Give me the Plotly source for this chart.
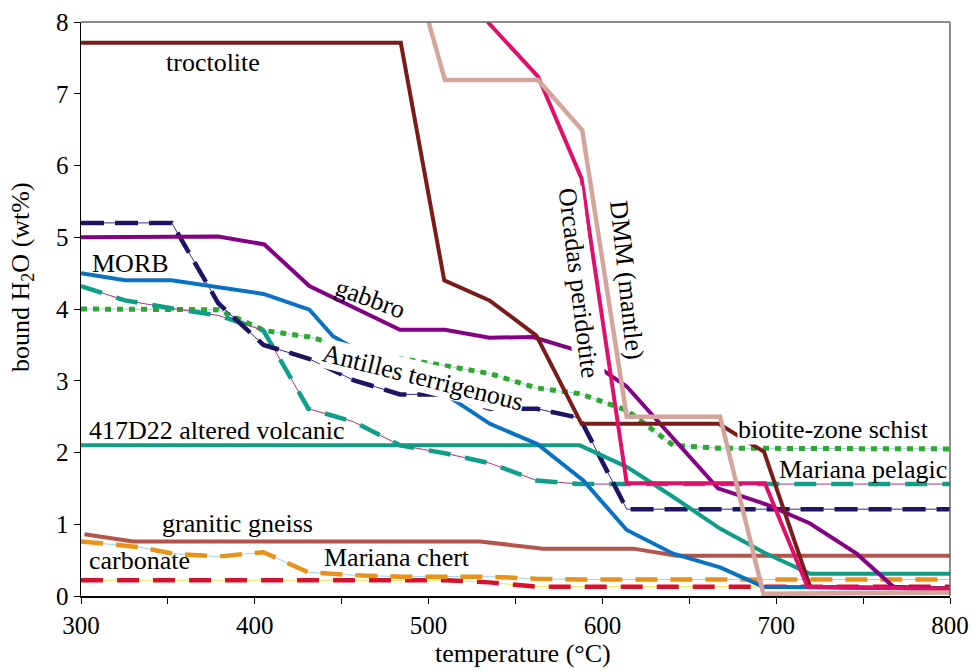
import plotly.graph_objects as go

# ---------------- data ----------------
troctolite_T = [300, 484, 509, 535, 562, 588, 667, 693, 719.5, 800]
troctolite_V = [7.71, 7.71, 4.40, 4.12, 3.63, 2.40, 2.40, 2.01, 0.13, 0.10]

dmm_T = [500, 509.4, 563, 588.4, 614, 667.7, 692.6, 800]
dmm_V = [8.0, 7.19, 7.19, 6.49, 2.50, 2.50, 0.03, 0.05]

orcadas_T = [534, 563, 588, 614, 693.5, 718, 800]
orcadas_V = [8.0, 7.24, 5.82, 1.57, 1.57, 0.13, 0.10]

gabbro_T = [300, 379, 405.5, 431.4, 483.5, 509.4, 535, 560, 582, 614, 666.5, 695, 719.5, 746.3, 767.4, 800]
gabbro_V = [5.0, 5.01, 4.90, 4.32, 3.71, 3.71, 3.60, 3.61, 3.45, 2.92, 1.50, 1.27, 1.01, 0.59, 0.13, 0.10]

morb_T = [300, 325.3, 352, 405, 431.4, 445, 500, 509, 535.3, 562.5, 589, 614, 640.8, 667.7, 692.6, 800]
morb_V = [4.50, 4.40, 4.40, 4.21, 3.99, 3.62, 2.85, 2.82, 2.40, 2.12, 1.61, 0.92, 0.59, 0.40, 0.13, 0.10]

antilles_T = [300, 352.2, 379, 405, 430.8, 456.7, 483.5, 509.4, 535.3, 562.2, 587, 614, 800]
antilles_V = [5.20, 5.20, 4.08, 3.50, 3.31, 3.01, 2.81, 2.81, 2.61, 2.61, 2.48, 1.21, 1.21]

pelagic_T = [300, 325.3, 352, 379, 405, 430.8, 456.7, 483.5, 509.4, 535.3, 562.2, 587, 800]
pelagic_V = [4.32, 4.12, 4.01, 3.91, 3.70, 2.61, 2.43, 2.10, 1.99, 1.85, 1.61, 1.56, 1.56]

schist_T = [300, 379, 405.5, 431.4, 470, 483.5, 509.4, 535.3, 562, 587, 614, 640.8, 667.7, 800]
schist_V = [4.00, 3.99, 3.70, 3.61, 3.36, 3.31, 3.21, 3.10, 2.90, 2.82, 2.59, 2.10, 2.06, 2.05]

volcanic_T = [300, 587, 614, 640.8, 667.7, 692.6, 719.5, 800]
volcanic_V = [2.10, 2.10, 1.80, 1.38, 0.94, 0.61, 0.31, 0.31]

gneiss_T = [302, 330, 529.6, 566, 617.8, 642.7, 800]
gneiss_V = [0.86, 0.76, 0.76, 0.66, 0.66, 0.56, 0.56]

carbonate_T = [300, 334, 353, 379, 405, 430.8, 456.7, 483.5, 509.4, 535, 562, 587, 800]
carbonate_V = [0.76, 0.68, 0.59, 0.55, 0.61, 0.33, 0.29, 0.27, 0.27, 0.27, 0.24, 0.23, 0.23]

chert_T = [300, 510, 535, 562, 800]
chert_V = [0.22, 0.22, 0.19, 0.13, 0.13]

x_range = [300, 800]
y_range = [0, 8]

# labels: text, x, y, angle, white background
labels = [
    ("troctolite", 375.7, 7.44, 0, False),
    ("MORB", 328.7, 4.63, 0, False),
    ("gabbro", 466.3, 4.14, 20, False),
    ("Antilles terrigenous", 496.8, 3.05, 14, True),
    ("417D22 altered volcanic", 378.5, 2.31, 0, False),
    ("granitic gneiss", 390.3, 1.01, 0, False),
    ("carbonate", 333.9, 0.49, 0, False),
    ("Mariana chert", 481.6, 0.54, 0, False),
    ("Orcadas peridotite", 586.5, 4.36, 83, True),
    ("DMM (mantle)", 614.2, 4.40, 84, False),
    ("biotite-zone schist", 732.7, 2.32, 0, True),
    ("Mariana pelagic", 750.2, 1.77, 0, False),
]

FONT = "Liberation Serif"

fig = go.Figure()


def solid(xs, ys, color, width=4, name=""):
    fig.add_trace(go.Scatter(x=xs, y=ys, mode="lines", name=name,
                             line=dict(color=color, width=width),
                             hoverinfo="skip", showlegend=False))


def dashed(xs, ys, color, thin_color, dash, width=4.5, name=""):
    fig.add_trace(go.Scatter(x=xs, y=ys, mode="lines", name=name + " (thin)",
                             line=dict(color=thin_color, width=1),
                             hoverinfo="skip", showlegend=False))
    fig.add_trace(go.Scatter(x=xs, y=ys, mode="lines", name=name,
                             line=dict(color=color, width=width, dash=dash),
                             hoverinfo="skip", showlegend=False))


# dashed / dotted series (drawn first)
dashed(chert_T, chert_V, "#D8102A", "#F2E44E", "22px,14px", name="Mariana chert")
dashed(carbonate_T, carbonate_V, "#E8921A", "#9FD3E6", "22px,13px", name="carbonate")
dashed(schist_T, schist_V, "#2EA82E", "#9FD3E6", "6px,6px", width=5, name="biotite-zone schist")
dashed(pelagic_T, pelagic_V, "#0F9E88", "#B4307E", "22px,15px", name="Mariana pelagic")
dashed(antilles_T, antilles_V, "#1E1464", "#3A2E86", "23px,11px", name="Antilles terrigenous")

# solid series
solid(gneiss_T, gneiss_V, "#B4554B", name="granitic gneiss")
solid(volcanic_T, volcanic_V, "#0E9E88", name="417D22 altered volcanic")
solid(morb_T, morb_V, "#0A72C2", name="MORB")
solid(gabbro_T, gabbro_V, "#840084", name="gabbro")
solid(troctolite_T, troctolite_V, "#7B1C1C", name="troctolite")
solid(orcadas_T, orcadas_V, "#E0106A", name="Orcadas peridotite")
solid(dmm_T, dmm_V, "#D4A59D", width=4.5, name="DMM (mantle)")

annotations = []
for text, lx, ly, ang, bg in labels:
    annotations.append(dict(
        x=lx, y=ly, xref="x", yref="y", text=text, showarrow=False,
        textangle=ang, xanchor="center", yanchor="middle",
        font=dict(family=FONT, size=26, color="black"),
        bgcolor="white" if bg else "rgba(0,0,0,0)", borderpad=0,
    ))

# plot area in page pixels: x 81..950, y 22..596
annotations.append(dict(
    x=(522.5 - 81) / 869, y=(596 - 653) / 574, xref="paper", yref="paper",
    text="temperature (°C)",
    showarrow=False, xanchor="center", yanchor="middle",
    font=dict(family=FONT, size=26, color="black")))
annotations.append(dict(
    x=(22 - 81) / 869, y=(596 - 277) / 574, xref="paper", yref="paper",
    text="bound H<sub>2</sub>O (wt%)", textangle=-90,
    showarrow=False, xanchor="center", yanchor="middle",
    font=dict(family=FONT, size=26, color="black")))

fig.update_layout(
    width=972, height=671,
    margin=dict(l=81, r=22, t=22, b=75, autoexpand=False),
    paper_bgcolor="white", plot_bgcolor="white",
    font=dict(family=FONT, size=25, color="black"),
    annotations=annotations,
    shapes=[
        dict(type="line", xref="paper", yref="paper", x0=0, x1=1, y0=1, y1=1,
             line=dict(color="#666666", width=1.5)),
        dict(type="line", xref="paper", yref="paper", x0=1, x1=1, y0=0, y1=1,
             line=dict(color="#666666", width=1.5)),
    ],
    xaxis=dict(range=x_range, tick0=300, dtick=100, automargin=False,
               ticklabeloverflow="allow",
               showgrid=False, zeroline=False, showline=True,
               linecolor="black", linewidth=1.5, ticks="outside",
               ticklen=6, tickcolor="black", tickwidth=1,
               minor=dict(dtick=50, ticks="outside", ticklen=6,
                          tickcolor="black", tickwidth=1, showgrid=False),
               tickfont=dict(family=FONT, size=25, color="black")),
    yaxis=dict(range=y_range, tick0=0, dtick=1, automargin=False,
               ticklabeloverflow="allow",
               showgrid=False, zeroline=False, showline=True,
               linecolor="black", linewidth=1.5, ticks="outside",
               ticklen=6, tickcolor="black", tickwidth=1,
               tickfont=dict(family=FONT, size=25, color="black")),
)

# remove the browser's default 8px body margin so the 972x671 figure fills the window
fig.write_html("out.html",
               config={"displayModeBar": False, "staticPlot": True},
               post_script="document.body.style.margin='0';document.body.style.overflow='hidden';")
